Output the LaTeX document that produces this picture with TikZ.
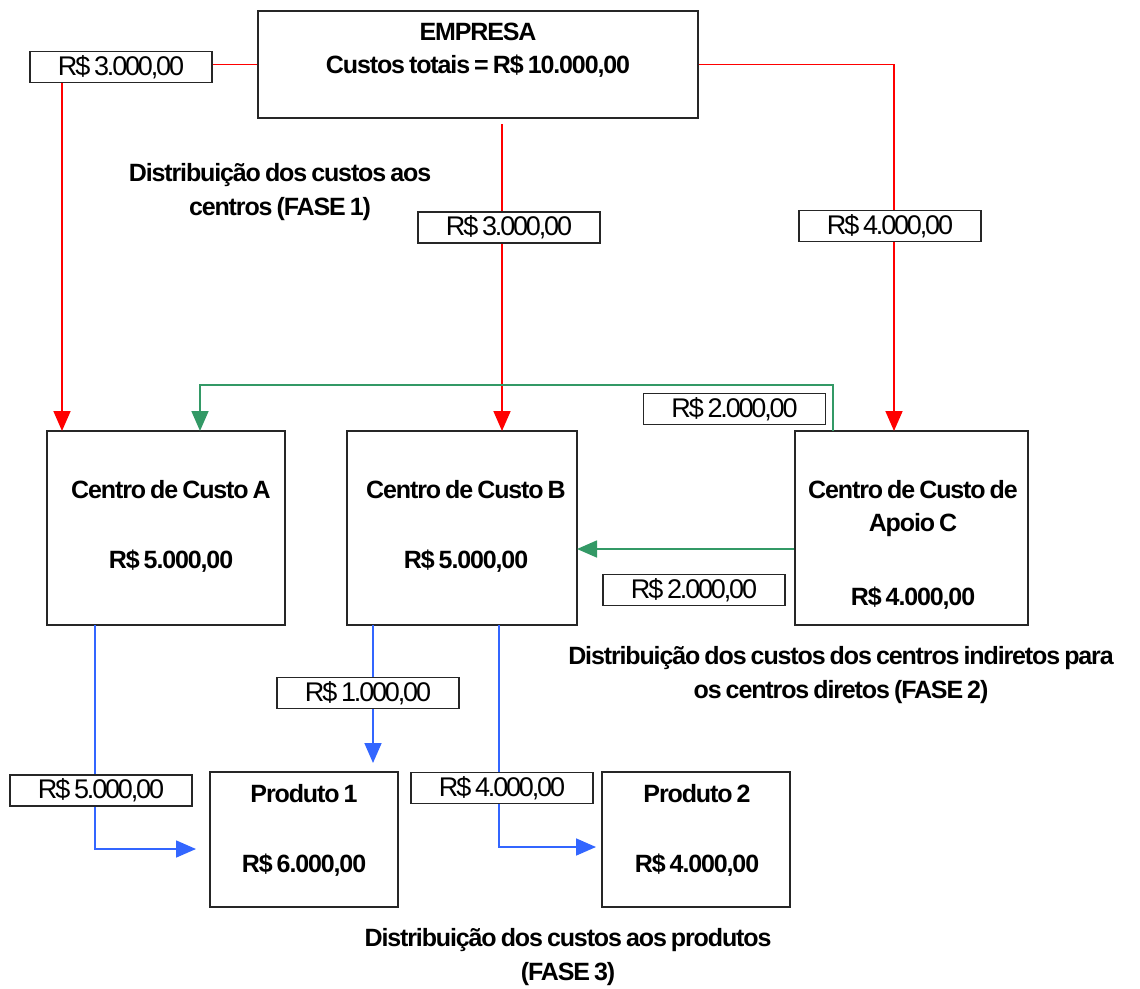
\documentclass[tikz,border=0pt]{standalone}
\usepackage{fontspec}
\setmainfont{Liberation Sans}
\newfontfamily\tagfont[LetterSpace=-8,WordSpace=0.7]{Liberation Sans}
\newfontfamily\headfont[LetterSpace=-4.5,WordSpace=0.7]{Liberation Sans}
\usetikzlibrary{arrows.meta}
\definecolor{flowred}{RGB}{255,0,0}
\definecolor{flowgreen}{RGB}{51,153,102}
\definecolor{flowblue}{RGB}{51,102,255}
\begin{document}
\begin{tikzpicture}[x=1pt,y=-1pt,
  box/.style={draw=black!85, line width=1.8pt, inner sep=0pt},
  tag/.style={draw=black!85, line width=1.6pt, fill=white, inner sep=0pt,
    minimum width=182pt, minimum height=31pt, font=\tagfont\fontsize{27}{29}\selectfont},
  btxt/.style={inner sep=0pt, align=center, font=\headfont\bfseries\fontsize{25}{34}\selectfont},
  redline/.style={draw=flowred, line width=1.7pt},
  greenline/.style={draw=flowgreen, line width=1.7pt},
  blueline/.style={draw=flowblue, line width=1.7pt},
  tip/.style={-{Triangle[length=20pt,width=17pt]}}
]
\useasboundingbox (0,0) rectangle (1140,988);

% main boxes
\node[box, minimum width=440pt, minimum height=107pt] (emp) at (478,64.5) {};
\node[box, minimum width=238pt, minimum height=194pt] (ca) at (166,528) {};
\node[box, minimum width=230pt, minimum height=194pt] (cb) at (462,528) {};
\node[box, minimum width=233pt, minimum height=194pt] (cc) at (911.5,528) {};
\node[box, minimum width=188pt, minimum height=135pt] (p1) at (304,839.5) {};
\node[box, minimum width=188pt, minimum height=135pt] (p2) at (696,839.5) {};

% box texts
\node[btxt] (empT1) at (478,32) {EMPRESA};
\node[btxt] (empT2) at (478,66) {Custos totais = R\$ 10.000,00};
\node[btxt] (caT1) at (171,490) {Centro de Custo A};
\node[btxt] (caT2) at (171,561) {R\$ 5.000,00};
\node[btxt] (cbT1) at (466,490) {Centro de Custo B};
\node[btxt] (cbT2) at (466,561) {R\$ 5.000,00};
\node[btxt] (ccT1) at (913,490) {Centro de Custo de};
\node[btxt] (ccT2) at (913,525) {Apoio C};
\node[btxt] (ccT3) at (913,598) {R\$ 4.000,00};
\node[btxt] (p1T1) at (304,794) {Produto 1};
\node[btxt] (p1T2) at (304,865) {R\$ 6.000,00};
\node[btxt] (p2T1) at (697,794) {Produto 2};
\node[btxt] (p2T2) at (697,865) {R\$ 4.000,00};

% phase captions
\node[btxt] (fase1) at (280,192) {Distribuição dos custos aos\\centros (FASE 1)};
\node[btxt] (fase2) at (841,675) {Distribuição dos custos dos centros indiretos para\\os centros diretos (FASE 2)};
\node[btxt] (fase3) at (568,957) {Distribuição dos custos aos produtos\\(FASE 3)};

% value tags
\node[tag] (r1) at (121,67) {R\$ 3.000,00};
\node[tag] (r2) at (509,227.5) {R\$ 3.000,00};
\node[tag] (r3) at (890,226) {R\$ 4.000,00};
\node[tag] (g1) at (734.5,409) {R\$ 2.000,00};
\node[tag] (g2) at (694,590) {R\$ 2.000,00};
\node[tag] (b1) at (101,790.5) {R\$ 5.000,00};
\node[tag] (b2) at (368,693) {R\$ 1.000,00};
\node[tag] (b3) at (502,788) {R\$ 4.000,00};

% anchor points of the connectors
\coordinate (ra) at (62,431);
\coordinate (rb) at (502,431);
\coordinate (rc) at (894,431);
\coordinate (ga) at (200,431);
\coordinate (gc) at (833,431);
\coordinate (gtop) at (833,385);
\coordinate (ba) at (95,625);
\coordinate (bb1) at (373,625);
\coordinate (bb2) at (499,625);
\coordinate (bp1top) at (373,763);
\coordinate (bp1) at (196,849);
\coordinate (bp2) at (596,847);
\coordinate (gb) at (577,549);
\coordinate (empbot) at (502,124);

% phase 1: red
\draw[redline] (emp.west) -- (emp.west -| r1.east);
\draw[redline, tip] (r1.south -| ra) -- (ra);
\draw[redline] (empbot) -- (r2.north -| empbot);
\draw[redline, tip] (r2.south -| rb) -- (rb);
\draw[redline] (emp.east) -| (r3.north -| rc);
\draw[redline, tip] (r3.south -| rc) -- (rc);

% phase 2: green
\draw[greenline, tip] (gc) -- (gtop) -| (ga);
\draw[greenline, tip] (cc.west |- gb) -- (gb);

% phase 3: blue
\draw[blueline] (ba) -- (b1.north -| ba);
\draw[blueline, tip] (b1.south -| ba) |- (bp1);
\draw[blueline] (bb1) -- (b2.north -| bb1);
\draw[blueline, tip] (b2.south -| bb1) -- (bp1top);
\draw[blueline] (bb2) -- (b3.north -| bb2);
\draw[blueline, tip] (b3.south -| bb2) |- (bp2);
\end{tikzpicture}
\end{document}
